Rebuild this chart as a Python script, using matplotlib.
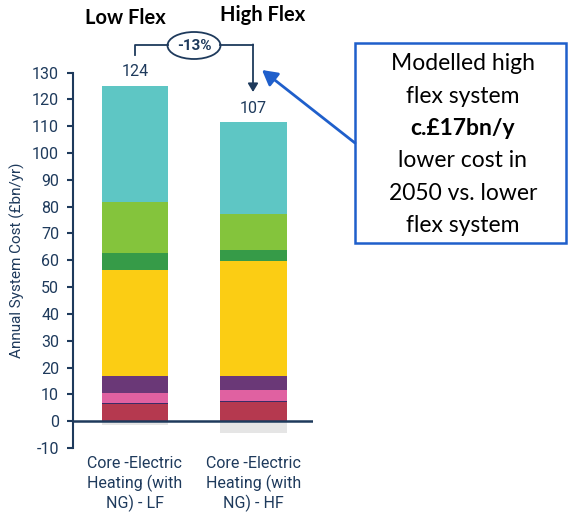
import matplotlib

matplotlib.use("Agg")
import matplotlib.pyplot as plt
from matplotlib.patches import Ellipse, FancyArrowPatch, Rectangle

# Annual system cost by component, £bn/yr, stacked bottom-up
scenarios = ["Core -Electric\nHeating (with\nNG) - LF", "Core -Electric\nHeating (with\nNG) - HF"]
totals = [124, 107]
seg_names = ["red", "line", "pink", "purple", "yellow", "dkgreen", "green", "teal"]
seg_lf = [6.4, 0.4, 3.7, 6.5, 39.2, 6.5, 19.2, 43.2]
seg_hf = [7.1, 0.4, 4.3, 5.2, 42.7, 4.0, 13.6, 34.1]
negative = [-1.5, -4.3]

colors = {
    "red": "#B5394F",
    "line": "#3A2C66",
    "pink": "#E061A1",
    "purple": "#6A3877",
    "yellow": "#FBCD14",
    "dkgreen": "#369B48",
    "green": "#84C43C",
    "teal": "#5EC6C4",
}
NAVY = "#1E3A5C"
BLUE = "#1F5FCB"

plt.rcParams["font.family"] = ["Roboto", "DejaVu Sans"]
plt.rcParams["axes.unicode_minus"] = False

W, H = 568, 520
fig = plt.figure(figsize=(W / 100, H / 100), dpi=100)


def px(x, y):
    return x / W, 1 - y / H


ax_l, ax_r, ax_t, ax_b = 73, 313, 72.5, 448
ax = fig.add_axes([ax_l / W, 1 - ax_b / H, (ax_r - ax_l) / W, (ax_b - ax_t) / H])

xpos = [0, 1]
width = 0.56
for x, segs, neg in zip(xpos, [seg_lf, seg_hf], negative):
    bottom = 0.0
    for name, v in zip(seg_names, segs):
        ax.bar(x, v, width, bottom=bottom, color=colors[name], linewidth=0)
        bottom += v
    ax.bar(x, neg, width, bottom=0, color="#E5E5E5", linewidth=0, zorder=1)

tops = [sum(seg_lf), sum(seg_hf)]
for x, top, tot in zip(xpos, tops, totals):
    ax.text(x, top + 2.5, f"{tot}", ha="center", va="bottom", fontsize=11.5, color=NAVY)

ax.axhline(0, color=NAVY, lw=1.8, zorder=3)
ax.set_xlim(-0.52, 1.5)
ax.set_ylim(-10, 130)
ax.set_yticks(range(-10, 131, 10))
ax.set_xticks([])
for s in ["top", "right", "bottom"]:
    ax.spines[s].set_visible(False)
ax.spines["left"].set_color(NAVY)
ax.spines["left"].set_linewidth(1.5)
ax.tick_params(axis="y", colors=NAVY, labelsize=11.5, length=4, width=1.5, pad=6)
ax.set_ylabel("Annual System Cost (£bn/yr)", color=NAVY, fontsize=11, labelpad=5)

for x, lab in zip(xpos, scenarios):
    ax.text(x, -13, lab, ha="center", va="top", fontsize=11.5, color=NAVY,
            linespacing=1.25, clip_on=False)

# Headline labels and the -13% bracket
fig.text(*px(125, 18), "Low Flex", ha="center", va="center", fontsize=14.5,
         fontweight="bold", family=["Lato", "DejaVu Sans"])
fig.text(*px(263, 15), "High Flex", ha="center", va="center", fontsize=14.5,
         fontweight="bold", family=["Lato", "DejaVu Sans"])

fig.add_artist(plt.Line2D([135 / W, 135 / W, 168 / W], [1 - 55 / H, 1 - 45 / H, 1 - 45 / H],
                          color=NAVY, lw=1.3))
fig.add_artist(plt.Line2D([220 / W, 253 / W], [1 - 45 / H, 1 - 45 / H], color=NAVY, lw=1.3))
fig.add_artist(FancyArrowPatch(px(253, 44.4), px(253, 92), transform=fig.transFigure,
                               arrowstyle="-|>,head_length=5,head_width=3",
                               color=NAVY, lw=1.3, shrinkA=0, shrinkB=0))
fig.add_artist(Ellipse(px(194, 45.5), 53 / W, 27 / H, transform=fig.transFigure,
                       facecolor="white", edgecolor=NAVY, lw=1.3))
fig.text(*px(194, 46), "-13%", ha="center", va="center", fontsize=11, fontweight="bold",
         color=NAVY)

# Callout box
fig.add_artist(Rectangle(px(355, 243), (566 - 355) / W, (243 - 43) / H,
                         transform=fig.transFigure, facecolor="white", edgecolor=BLUE, lw=1.8))
lines = ["Modelled high", "flex system", "c.£17bn/y", "lower cost in",
         "2050 vs. lower", "flex system"]
for i, t in enumerate(lines):
    fig.text(*px(463, 64 + i * 32.3), t, ha="center", va="center", fontsize=16.5,
             fontweight="bold" if i == 2 else "normal", family=["Lato", "DejaVu Sans"])
fig.add_artist(FancyArrowPatch(px(355, 143), px(262, 70), transform=fig.transFigure,
                               arrowstyle="-|>,head_length=9,head_width=5",
                               color=BLUE, lw=2, shrinkA=0, shrinkB=0))

fig.savefig("out.png", dpi=100)
